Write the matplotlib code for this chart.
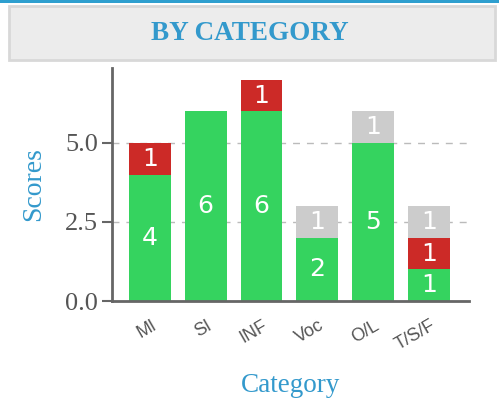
import numpy as np
import matplotlib
matplotlib.use("Agg")
import matplotlib.pyplot as plt
import matplotlib.patches as mpatches

categories = ['MI', 'SI', 'INF', 'Voc', 'O/L', 'T/S/F']
green_vals = [4, 6, 6, 2, 5, 1]
red_vals = [1, 0, 1, 0, 0, 1]
gray_vals = [0, 0, 0, 1, 1, 1]
yticks = [0.0, 2.5, 5.0]

blue = '#3399cc'
fig = plt.figure(figsize=(4.99, 4.05), dpi=100)

# top strip + title box
fig.patches.append(mpatches.Rectangle((0, 1 - 3/405), 1, 3/405, transform=fig.transFigure,
                                      facecolor='#2e9fcf', edgecolor='none'))
fig.patches.append(mpatches.Rectangle((9/499, 1 - 60/405), 486/499, 54/405, transform=fig.transFigure,
                                      facecolor='#ececec', edgecolor='#d8d8d8', lw=2))
fig.text(0.5, 1 - 33/405, 'BY CATEGORY', ha='center', va='center', color=blue,
         fontsize=19.5, fontweight='bold', family='Liberation Serif')

ax = fig.add_axes([112/499, 1 - 301/405, 357/499, 233/405])
x = np.arange(len(categories))
w = 0.75
green = np.array(green_vals)
red = np.array(red_vals)
gray = np.array(gray_vals)
stacks = [(green, np.zeros(len(x)), '#35d35f'),
          (red, green, '#cc2a27'),
          (gray, green + red, '#cccccc')]
for vals, bottom, col in stacks:
    ax.bar(x, vals, w, bottom=bottom, color=col, zorder=2)
    for xi, v, b in zip(x, vals, bottom):
        if v > 0:
            ax.text(xi, b + v / 2, str(v), ha='center', va='center', color='white',
                    fontsize=18, family='DejaVu Sans', zorder=3)

ax.set_xlim(-0.68, 5.72)
ax.set_ylim(0, 7.37)
ax.set_yticks(yticks)
ax.set_yticklabels(['%.1f' % t for t in yticks], family='Liberation Serif', fontsize=19, color='#555555')
ax.set_xticks(x)
ax.set_xticklabels([])
# rotated category labels, right end just past the tick
for xi, cat in zip(x, categories):
    ax.annotate(cat, (xi, 0), xycoords=('data', 'axes fraction'), xytext=(1, -16),
                textcoords='offset pixels', rotation=30, rotation_mode='anchor',
                ha='right', va='top', family='Liberation Sans', fontsize=13, color='#555555')
ax.tick_params(axis='y', length=7, width=1.5, color='#666666', pad=3)
ax.tick_params(axis='x', length=0)
ax.yaxis.grid(True, linestyle=(0, (5, 5)), color='#bbbbbb', lw=1, zorder=1)
ax.set_axisbelow(True)
for s in ['top', 'right']:
    ax.spines[s].set_visible(False)
for s in ['left', 'bottom']:
    ax.spines[s].set_color('#666666')
    ax.spines[s].set_linewidth(2)
ax.set_ylabel('Scores', family='Liberation Serif', fontsize=20, color=blue, labelpad=14)
ax.set_xlabel('Category', family='Liberation Serif', fontsize=19.5, color=blue, va='center')
ax.xaxis.set_label_coords(0.5, (301 - 385) / 233)

fig.savefig('out.png', dpi=100)
